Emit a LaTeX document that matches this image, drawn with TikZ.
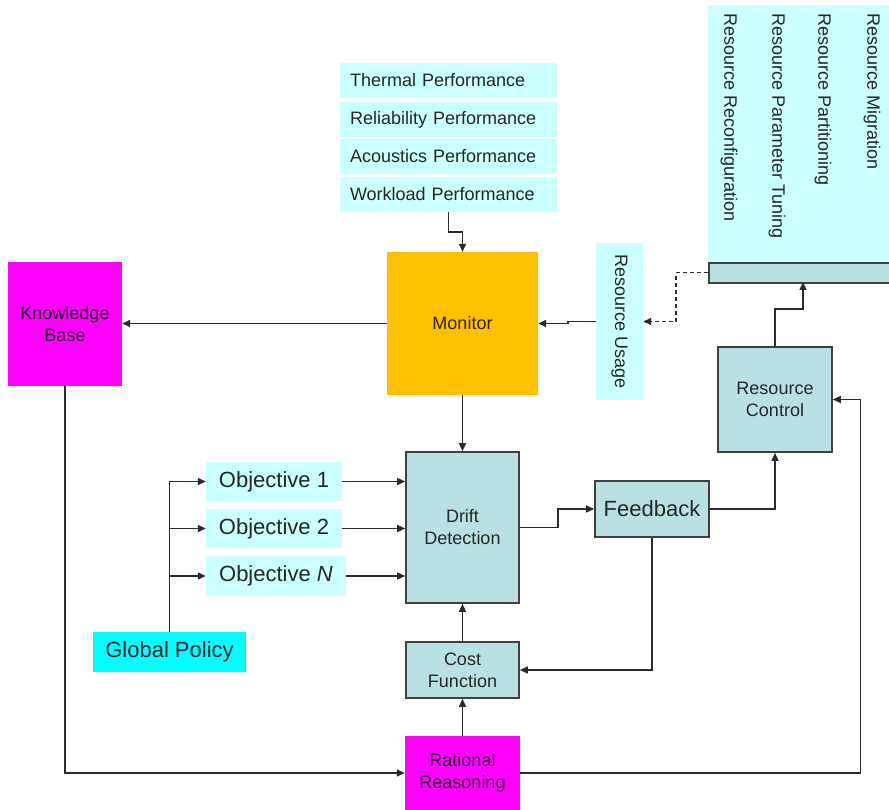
\documentclass[tikz,border=0pt]{standalone}
\usepackage{fontspec}
\setmainfont{Liberation Sans}
\usetikzlibrary{arrows.meta,calc}
\definecolor{lcyan}{HTML}{CCFFFF}
\definecolor{gcyan}{HTML}{00FFFF}
\definecolor{mag}{HTML}{FF00FF}
\definecolor{mon}{HTML}{FFC000}
\definecolor{gblue}{HTML}{B9E0E3}
\definecolor{lin}{HTML}{2B2B2B}
\definecolor{bord}{HTML}{404040}
\definecolor{txt}{HTML}{262626}
\newcommand{\fs}{\fontsize{18}{22}\selectfont}
\newcommand{\fb}{\fontsize{22}{26}\selectfont}
\begin{document}
\begin{tikzpicture}[x=1pt,y=-1pt,
  box/.style={rectangle,inner sep=0pt,align=center,text=txt,font=\fs},
  cbox/.style={box,fill=lcyan},
  gbox/.style={box,fill=gblue,draw=bord,line width=1.6pt},
  mbox/.style={box,fill=mag,text={rgb,255:red,40;green,0;blue,40}},
  arr/.style={draw=lin,line width=1.4pt,-{Triangle[length=8pt,width=7pt]}},
  rot/.style={rotate=-90,inner sep=0pt,font=\fs,text=txt}]
\useasboundingbox (0,0) rectangle (889,810);
% top right action box
\node[cbox,anchor=north west,minimum width=184pt,minimum height=257pt] (acts) at (708,5) {};
\node[gbox,anchor=north west,minimum width=190pt,minimum height=20pt] (strip) at (708,262) {};
\node[rot,anchor=west] (mig) at (872,13) {Resource Migration};
\node[rot,anchor=west] (part) at (823,13) {Resource Partitioning};
\node[rot,anchor=west] (tune) at (777,13) {Resource Parameter Tuning};
\node[rot,anchor=west] (reconf) at (729,13) {Resource Reconfiguration};
\coordinate (stripin) at (803,282);
% resource usage
\node[cbox,minimum width=47pt,minimum height=157pt] (ru) at (619.5,321.5) {};
\node[rot] (rutext) at (ru.center) {Resource Usage};
% performance boxes
\node[cbox,minimum width=217pt,minimum height=35pt,text width=197pt,align=left] (therm) at (448.5,80.5) {Thermal Performance};
\node[cbox,minimum width=217pt,minimum height=35pt,text width=197pt,align=left] (rel) at (448.5,119.5) {Reliability Performance};
\node[cbox,minimum width=217pt,minimum height=35pt,text width=197pt,align=left] (acou) at (448.5,156.5) {Acoustics Performance};
\node[cbox,minimum width=217pt,minimum height=35pt,text width=197pt,align=left] (work) at (448.5,194.5) {Workload Performance};
% main blocks
\node[box,fill=mon,minimum width=151pt,minimum height=143pt] (mon) at (462.5,323.5) {Monitor};
\node[mbox,minimum width=114pt,minimum height=124pt] (kb) at (65,324) {Knowledge\\Base};
\node[gbox,minimum width=113pt,minimum height=151pt] (drift) at (462.5,527.5) {Drift\\Detection};
\node[gbox,minimum width=113pt,minimum height=56pt] (cost) at (462.5,670) {Cost\\Function};
\node[mbox,minimum width=115pt,minimum height=74pt] (rat) at (462.5,773) {Rational\\Reasoning};
\node[gbox,minimum width=114pt,minimum height=56pt,font=\fb] (fb) at (652,509) {Feedback};
\node[gbox,minimum width=114pt,minimum height=105pt] (rc) at (775,399.5) {Resource\\Control};
\node[cbox,minimum width=136pt,minimum height=39pt,font=\fb] (o1) at (274,481.5) {Objective 1};
\node[cbox,minimum width=136pt,minimum height=39pt,font=\fb] (o2) at (274,528.5) {Objective 2};
\node[cbox,minimum width=140pt,minimum height=40pt,font=\fb] (on) at (276,576) {Objective \textit{N}};
\node[box,fill=gcyan,minimum width=153pt,minimum height=40pt,font=\fb] (gp) at (169.5,652) {Global Policy};
% connectors
\draw[arr] (work.south) -- ++(0,20) -| (mon.north);
\draw[arr] (mon.west) -- (kb.east |- mon.west);
\draw[arr] (ru.west) -- ++(-28,0) |- (mon.east);
\draw[arr,dashed,dash pattern=on 4pt off 3pt] (strip.west) -- ++(-32,0) |- (ru.east);
\draw[arr] (mon.south) -- (drift.north);
\draw[arr] (cost.north) -- (drift.south);
\draw[arr] (rat.north) -- (cost.south);
\draw[arr] (drift.east) -- ++(38,0) |- (fb.west);
\draw[arr] (fb.south) |- (cost.east);
\draw[arr] (fb.east) -| (rc.south);
\draw[arr] (rc.north) -- ++(0,-37) -| (stripin);
\draw[arr] (kb.south) |- (rat.west);
\draw[arr] (rat.east) -- ++(340,0) |- (rc.east);
\draw[arr] (o1.east) -- (drift.west |- o1.east);
\draw[arr] (o2.east) -- (drift.west |- o2.east);
\draw[arr] (on.east) -- (drift.west |- on.east);
\draw[arr] (gp.north) |- (o1.west);
\draw[arr] (gp.north) |- (o2.west);
\draw[arr] (gp.north) |- (on.west);
\end{tikzpicture}
\end{document}
